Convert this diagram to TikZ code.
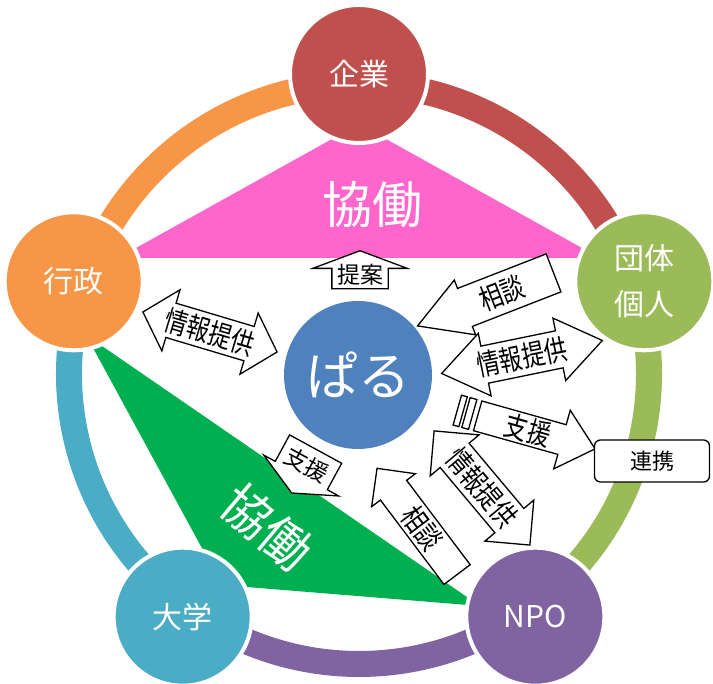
\documentclass[tikz,border=0pt]{standalone}
\usepackage{fontspec}
\setmainfont{Noto Sans CJK JP}
\usetikzlibrary{shapes}
\usetikzlibrary{shapes.arrows}
\usetikzlibrary{calc}
\definecolor{kigyorot}{HTML}{C0504D}
\definecolor{dantaigruen}{HTML}{9BBB59}
\definecolor{npolila}{HTML}{8064A2}
\definecolor{daigakublau}{HTML}{4BACC6}
\definecolor{gyoseiorange}{HTML}{F79646}
\definecolor{parublau}{HTML}{4F81BD}
\definecolor{kyodorosa}{HTML}{FF66CC}
\definecolor{kyodogruen}{HTML}{00B050}
\newcommand{\strecke}[1]{\scalebox{1}[1.25]{#1}}
\tikzset{kreis/.style = {
    shape=circle, draw=white, line width=4pt, minimum size=138pt,
    text=white, align=center, font=\fontsize{30}{46}\selectfont
}}
\tikzset{ring/.style = {
    line width=26pt
}}
\tikzset{pfeil/.style = {
    shape=single arrow, draw=black, fill=white, line width=1.3pt,
    inner xsep=1pt, font=\fontsize{23}{23}\selectfont
}}
\tikzset{doppelpfeil/.style = {
    shape=double arrow, draw=black, fill=white, line width=1.3pt,
    inner xsep=-4pt, font=\fontsize{23}{23}\selectfont
}}
\tikzset{streifen/.style = {
    shape=rectangle, draw=black, fill=white, line width=1.3pt,
    inner sep=0pt, minimum height=31pt
}}

\begin{document}
\begin{tikzpicture}[x=1pt,y=1pt]
  \useasboundingbox (0,0) rectangle (713,684);
  \coordinate (o) at (359,310);
  % ring
  \draw[ring, kigyorot] ($(o)+(90:290pt)$) arc[start angle=90, end angle=18, radius=290pt];
  \draw[ring, dantaigruen] ($(o)+(18:290pt)$) arc[start angle=18, end angle=-54, radius=290pt];
  \draw[ring, npolila] ($(o)+(-54:290pt)$) arc[start angle=-54, end angle=-126, radius=290pt];
  \draw[ring, daigakublau] ($(o)+(-126:290pt)$) arc[start angle=-126, end angle=-198, radius=290pt];
  \draw[ring, gyoseiorange] ($(o)+(162:290pt)$) arc[start angle=162, end angle=90, radius=290pt];
  % kyodo
  \fill[kyodorosa] (359,560) -- (118,426) -- (600,426) -- cycle;
  \fill[kyodogruen] (86,349) -- (222,99) -- (480,78) -- cycle;
  \node[text=white, font=\fontsize{50}{50}\selectfont] (kyodo1) at (372,479) {協働};
  \node[text=white, font=\fontsize{50}{50}\selectfont, rotate=-40] (kyodo2) at (267,157) {協働};
  % circles
  \node[kreis, fill=kigyorot] (kigyo) at ($(o)+(90:300pt)$) {企業};
  \node[kreis, fill=dantaigruen] (dantai) at ($(o)+(18:300pt)$) {団体\\個人};
  \node[kreis, fill=npolila] (npo) at ($(o)+(-54:300pt)$) {NPO};
  \node[kreis, fill=daigakublau] (daigaku) at ($(o)+(-126:300pt)$) {大学};
  \node[kreis, fill=gyoseiorange] (gyosei) at ($(o)+(162:300pt)$) {行政};
  \node[kreis, fill=parublau, draw=none, minimum size=148pt, font=\fontsize{52}{52}\selectfont] (paru) at (358,309) {ぱる};
  % arrows
  \node[pfeil, rotate=90, inner ysep=4.5pt, minimum height=38pt, single arrow head extend=19pt, single arrow tip angle=139] (teian) at (360,409) {\rotatebox{-90}{提案}};
  \node[doppelpfeil, rotate=-16.6, inner ysep=4pt, minimum height=140pt, double arrow head extend=14pt, double arrow tip angle=95] (joho1) at (210,352) {\strecke{情報提供}};
  \node[pfeil, rotate=201.3, inner ysep=6.5pt, minimum height=146pt, single arrow head extend=9pt, single arrow tip angle=60] (sodan1) at (502,391) {\rotatebox{180}{\strecke{相談}}};
  \node[doppelpfeil, rotate=11.6, inner ysep=5pt, minimum height=164pt, double arrow head extend=13pt, double arrow tip angle=72] (joho2) at (522,327) {\strecke{情報提供}};
  \node[pfeil, rotate=-15.7, inner ysep=1.5pt, minimum height=122pt, single arrow head extend=15pt, single arrow tip angle=83] (shien1) at (528,254) {\strecke{支援}};
  \node[streifen, rotate=-15.7, minimum width=7pt] (streifen1) at ($(shien1.tail)!-8pt!(shien1.tip)$) {};
  \node[streifen, rotate=-15.7, minimum width=6pt] (streifen2) at ($(shien1.tail)!-17.5pt!(shien1.tip)$) {};
  \node[pfeil, rotate=-118.6, inner ysep=6pt, minimum height=50pt, single arrow head extend=13pt, single arrow tip angle=130] (shien2) at (307,219) {\rotatebox{90}{支援}};
  \node[doppelpfeil, rotate=-50, inner ysep=5pt, minimum height=149pt, double arrow head extend=13pt, double arrow tip angle=90] (joho3) at (482,196) {\strecke{情報提供}};
  \node[pfeil, rotate=127, inner ysep=2.5pt, minimum height=133pt, single arrow head extend=11pt, single arrow tip angle=90] (sodan2) at (422,156) {\rotatebox{180}{\strecke{相談}}};
  \node[draw=black, fill=white, rounded corners=6pt, line width=1.3pt, minimum width=115pt, minimum height=42pt, font=\fontsize{22}{22}\selectfont] (renkei) at (652,223) {連携};
\end{tikzpicture}
\end{document}
